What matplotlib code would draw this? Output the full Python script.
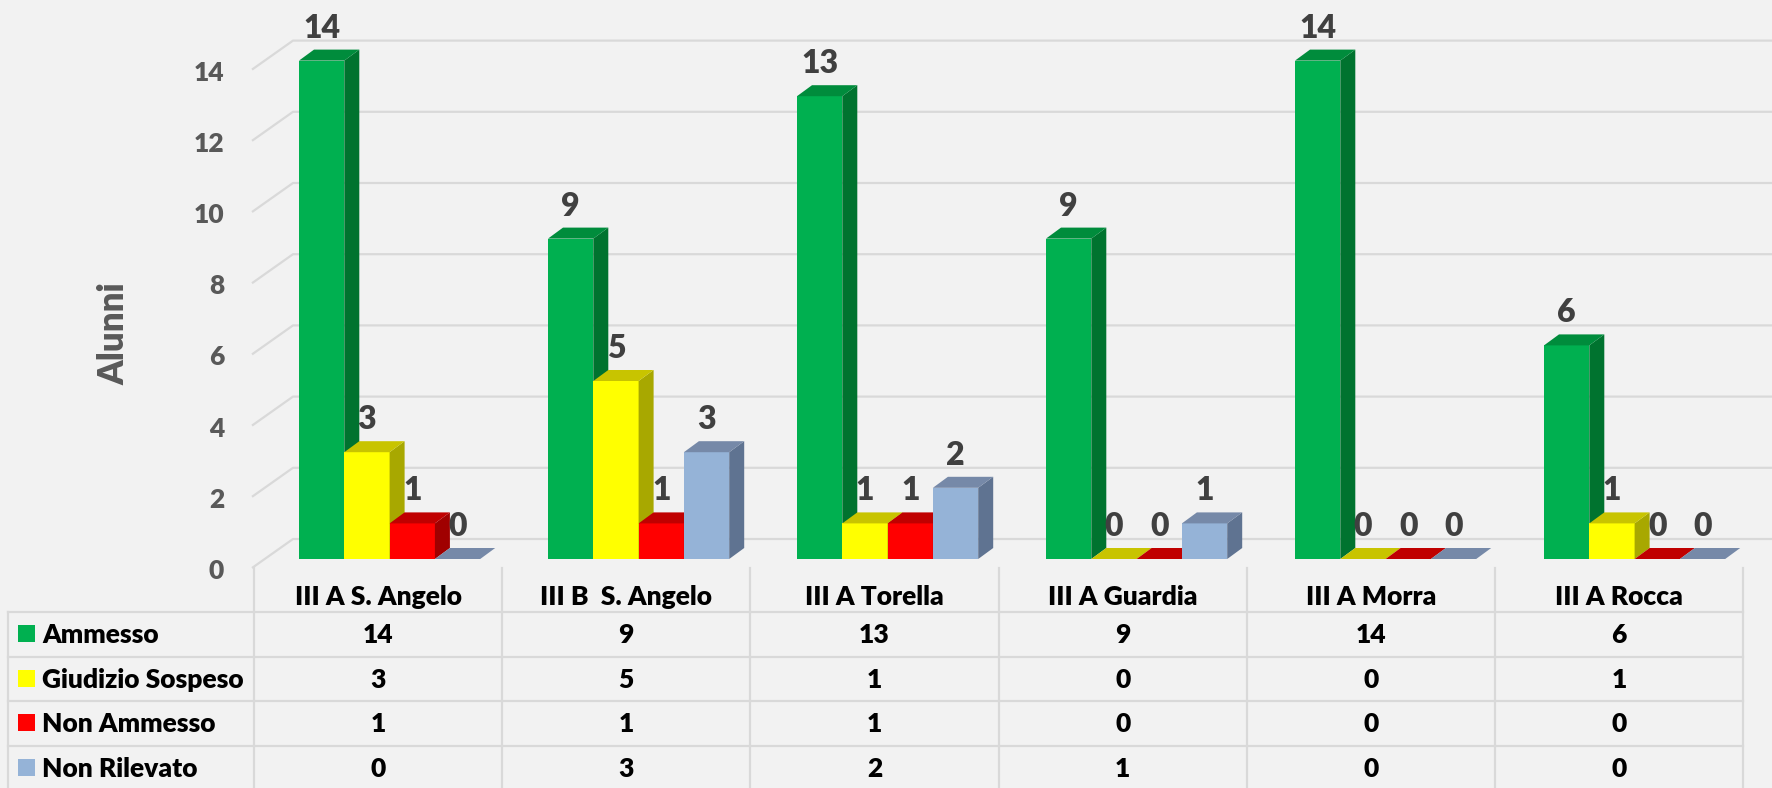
import matplotlib
matplotlib.use("Agg")
import matplotlib.pyplot as plt
from matplotlib.patches import Polygon, Rectangle

# ---------------- data ----------------
categories = ["III A S. Angelo", "III B  S. Angelo", "III A Torella",
              "III A Guardia", "III A Morra", "III A Rocca"]
series_names = ["Ammesso", "Giudizio Sospeso", "Non Ammesso", "Non Rilevato"]
ammesso = [14, 9, 13, 9, 14, 6]
giudizio_sospeso = [3, 5, 1, 0, 0, 1]
non_ammesso = [1, 1, 1, 0, 0, 0]
non_rilevato = [0, 3, 2, 1, 0, 0]
y_ticks = [0, 2, 4, 6, 8, 10, 12, 14]
y_label = "Alunni"

series_values = [ammesso, giudizio_sospeso, non_ammesso, non_rilevato]
front_colors = ["#00B050", "#FFFF00", "#FF0000", "#95B3D7"]
side_colors = ["#00732F", "#A8A800", "#A00000", "#5F7391"]
top_colors = ["#008C3C", "#C8C400", "#C00000", "#7689A8"]

FONT = ["Lato", "DejaVu Sans"]
plt.rcParams["font.family"] = FONT
WEIGHT = "heavy"

W, H = 1772, 788
BG = "#F2F2F2"
fig = plt.figure(figsize=(W / 100, H / 100), dpi=100, facecolor=BG)

# layout axes in pixel coordinates (table, axis title)
lay = fig.add_axes([0, 0, 1, 1])
lay.set_xlim(0, W)
lay.set_ylim(H, 0)
lay.axis("off")
lay.patch.set_alpha(0)

# chart axes: x = category index, y = value
CAT_PX = 249.0
UNIT_PX = 35.6
X0 = 389.6
Y0 = 559.0
ax = fig.add_axes([0, 0, 1, 1])
ax.set_xlim(-X0 / CAT_PX, (W - X0) / CAT_PX)
ax.set_ylim((Y0 - H) / UNIT_PX, Y0 / UNIT_PX)
ax.axis("off")
ax.patch.set_alpha(0)

bw = 45.3 / CAT_PX
DX = 15 / CAT_PX
DY = 11 / UNIT_PX
xmax = ax.get_xlim()[1]

# gridlines (front diagonal + back wall)
xf = (252 - X0) / CAT_PX
xb = (293 - X0) / CAT_PX
grid_c = "#D9D9D9"
for v in y_ticks:
    ax.plot([xf, xb, xmax], [v - 9 / UNIT_PX, v + 20 / UNIT_PX, v + 20 / UNIT_PX],
            color=grid_c, lw=1.6, zorder=1, solid_capstyle="butt")
    ax.text((224 - X0) / CAT_PX, v - 20 / UNIT_PX, str(v), ha="right", va="baseline",
            fontsize=19, fontweight=WEIGHT, color="#595959", zorder=2)

# 3D-looking bars
n = len(categories)
for k, vals in enumerate(series_values):
    xs = [i - 2 * bw + k * bw for i in range(n)]
    z = 3 + k
    ax.bar(xs, vals, width=bw, align="edge", color=front_colors[k], linewidth=0, zorder=z)
    for x, v in zip(xs, vals):
        if v > 0:
            side = Polygon([(x + bw, 0), (x + bw, v), (x + bw + DX, v + DY), (x + bw + DX, DY)],
                           closed=True, facecolor=side_colors[k], edgecolor="none", zorder=z)
            ax.add_patch(side)
        top = Polygon([(x, v), (x + bw, v), (x + bw + DX, v + DY), (x + DX, v + DY)],
                      closed=True, facecolor=top_colors[k], edgecolor="none", zorder=z)
        ax.add_patch(top)
        ax.text(x + bw / 2, v + DY + 12 / UNIT_PX, str(v), ha="center", va="baseline",
                fontsize=23, fontweight=WEIGHT, color="#404040", zorder=20)

# axis title
lay.text(114, 334, y_label, rotation=90, ha="center", va="center",
         fontsize=25, fontweight=WEIGHT, color="#595959")

# data table
tab_c = "#D9D9D9"
col_x = [254 + 248.2 * j for j in range(n + 1)]
row_y = [612 + 44.7 * r for r in range(len(series_names) + 1)]
for cx in col_x:
    lay.plot([cx, cx], [568, H + 5], color=tab_c, lw=1.6, zorder=1)
lay.plot([8, 8], [row_y[0], H + 5], color=tab_c, lw=1.6, zorder=1)
for ry in row_y[:-1]:
    lay.plot([8, col_x[-1]], [ry, ry], color=tab_c, lw=1.6, zorder=1)

for j, cat in enumerate(categories):
    cxm = (col_x[j] + col_x[j + 1]) / 2
    lay.text(cxm, 605, cat, ha="center", va="baseline", fontsize=19,
             fontweight=WEIGHT, color="black")

for r, (name, vals) in enumerate(zip(series_names, series_values)):
    top_y = row_y[r]
    lay.add_patch(Rectangle((18, top_y + 13), 17, 17, facecolor=front_colors[r],
                            edgecolor="none", zorder=2))
    lay.text(42, top_y + 31, name, ha="left", va="baseline", fontsize=19,
             fontweight=WEIGHT, color="black")
    for j, v in enumerate(vals):
        cxm = (col_x[j] + col_x[j + 1]) / 2
        lay.text(cxm, top_y + 31, str(v), ha="center", va="baseline", fontsize=19,
                 fontweight=WEIGHT, color="black")

fig.savefig("out.png", dpi=100, facecolor=BG)
